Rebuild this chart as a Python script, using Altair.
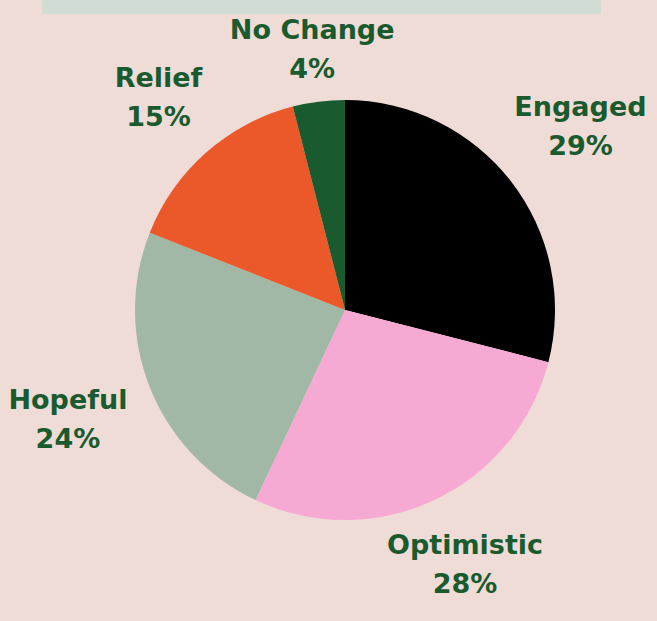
import altair as alt
import pandas as pd

categories = ["Engaged", "Optimistic", "Hopeful", "Relief", "No Change"]
values = [29, 28, 24, 15, 4]
colors = ["#000000", "#F6A9D3", "#A1B8A7", "#EB5829", "#195B2E"]

df = pd.DataFrame({
    "category": categories,
    "value": values,
    "order": list(range(len(categories))),
})
df["label"] = [[c, f"{v}%"] for c, v in zip(categories, values)]

W, H = 657, 621
cx, cy = 345, 310

base = alt.Chart(df).encode(
    theta=alt.Theta("value:Q", stack=True),
    order=alt.Order("order:Q"),
)

pie = base.mark_arc(outerRadius=210).encode(
    color=alt.Color("category:N", scale=alt.Scale(domain=categories, range=colors), legend=None),
    x=alt.value(cx),
    y=alt.value(cy),
)

text_style = dict(
    font="DejaVu Sans", fontWeight="bold", fontSize=27, color="#195B2E",
    align="center", baseline="middle", lineHeight=39, dy=-19,
)

# label distance from centre (style), grouped by category
label_groups = [
    (["Engaged", "Hopeful"], 298),
    (["Optimistic", "Relief"], 282),
    (["No Change"], 262),
]

label_layers = []
for cats, r in label_groups:
    pred = alt.FieldOneOfPredicate(field="category", oneOf=cats)
    label_layers.append(
        base.mark_text(**text_style).encode(
            text=alt.condition(pred, alt.Text("label:N"), alt.value("")),
            radius=alt.value(r),
            x=alt.value(cx),
            y=alt.value(cy),
        )
    )

bar = alt.Chart(pd.DataFrame({"a": [0]})).mark_rect(color="#D1DCD5").encode(
    x=alt.value(42), x2=alt.value(601), y=alt.value(0), y2=alt.value(14)
)

chart = alt.layer(bar, pie, *label_layers).properties(
    width=W, height=H, padding=0, background="#F0DCD6",
    autosize=alt.AutoSizeParams(type="none"),
).configure_view(stroke=None)

chart.save("out.html", embed_options={"renderer": "svg", "actions": False})
